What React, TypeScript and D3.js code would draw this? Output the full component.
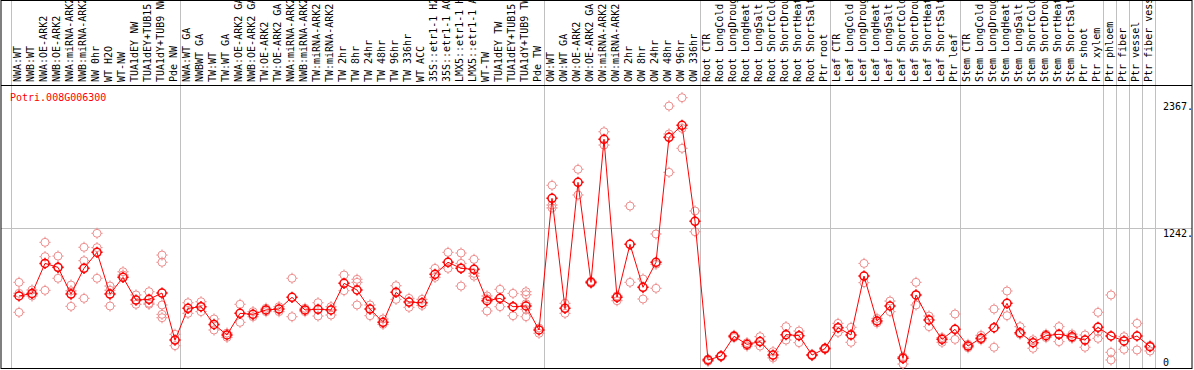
import React from 'react';
import * as d3 from 'd3';

// chart data
const title = 'Potri.008G006300';

const labels = [
  'NWA:WT', 'NWB:WT', 'NWA:OE-ARK2', 'NWB:OE-ARK2', 'NWA:miRNA-ARK2', 'NWB:miRNA-ARK2', 'NW 0hr',
  'WT H2O', 'WT-NW', 'TUA1dEY NW', 'TUA1dEY+TUB15', 'TUA1dY+TUB9 NW', 'Pde NW',
  'NWA:WT GA', 'NWBWT GA', 'TW:WT', 'TW:WT GA', 'NWA:OE-ARK2 GA', 'NWB:OE-ARK2 GA', 'TW:OE-ARK2',
  'TW:OE-ARK2 GA', 'NWA:miRNA-ARK2', 'NWB:miRNA-ARK2', 'TW:miRNA-ARK2', 'TW:miRNA-ARK2', 'TW 2hr',
  'TW 8hr', 'TW 24hr', 'TW 48hr', 'TW 96hr', 'TW 336hr', 'WT ACC', '35S::etr1-1 H2O', '35S::etr1-1 ACC',
  'LMX5::etr1-1 H2O', 'LMX5::etr1-1 ACC', 'WT-TW', 'TUA1dEY TW', 'TUA1dEY+TUB15', 'TUA1dY+TUB9 TW', 'Pde TW',
  'OW:WT', 'OW:WT GA', 'OW:OE-ARK2', 'OW:OE-ARK2 GA', 'OW:miRNA-ARK2', 'OW:miRNA-ARK2', 'OW 2hr',
  'OW 8hr', 'OW 24hr', 'OW 48hr', 'OW 96hr', 'OW 336hr',
  'Root CTR', 'Root LongCold', 'Root LongDrought', 'Root LongHeat', 'Root LongSalt', 'Root ShortCold',
  'Root ShortDrought', 'Root ShortHeat', 'Root ShortSalt', 'Ptr root',
  'Leaf CTR', 'Leaf LongCold', 'Leaf LongDrought', 'Leaf LongHeat', 'Leaf LongSalt', 'Leaf ShortCold',
  'Leaf ShortDrought', 'Leaf ShortHeat', 'Leaf ShortSalt', 'Ptr leaf',
  'Stem CTR', 'Stem LongCold', 'Stem LongDrought', 'Stem LongHeat', 'Stem LongSalt', 'Stem ShortCold',
  'Stem ShortDrought', 'Stem ShortHeat', 'Stem ShortSalt', 'Ptr shoot', 'Ptr xylem',
  'Ptr phloem', 'Ptr fiber', 'Ptr vessel', 'Ptr fiber vessel',
];

// number of samples between the grey separators
const groupSizes = [13, 28, 12, 10, 10, 11, 1, 1, 1, 1];

const means = [
  639, 662, 928, 893, 656, 884, 1026, 656, 804, 603, 609, 665, 248,
  529, 544, 387, 293, 485, 476, 515, 523, 627, 515, 521, 515, 751, 692, 523, 405, 671, 585, 579,
  831, 938, 884, 875, 597, 618, 544, 550, 337,
  1505, 529, 1647, 760, 2029, 627, 1097, 716, 938, 2046, 2153, 1301,
  71, 106, 281, 210, 234, 115, 296, 287, 115, 172,
  358, 293, 816, 417, 550, 86, 648, 426, 254, 343,
  195, 263, 358, 574, 313, 225, 287, 299, 278, 248, 361,
  284, 240, 284, 189,
];

const replicates = [
  [760, 494, 663], [692, 639, 655], [1115, 988, 689], [993, 796, 890], [736, 547, 685],
  [1071, 952, 618], [1195, 1068, 796], [727, 550, 690], [854, 825], [648, 565],
  [677, 565, 575], [1002, 938, 559, 476, 446], [299, 198],
  [579, 485], [588, 500], [435, 337], [310, 272], [565, 405], [500, 455], [530, 500],
  [544, 500], [796, 455], [530, 500], [579, 461], [544, 470], [825, 686], [787, 760, 559],
  [559, 464], [435, 387], [730, 609], [618, 538], [609, 555], [884, 804], [1026, 884],
  [1020, 928, 727], [964, 840, 815], [639, 615, 506], [698, 544], [662, 464],
  [677, 650, 570, 520, 455], [355, 308],
  [1621, 1446, 1420], [574, 485], [1763, 1535], [770, 750], [2096, 1978], [640, 597],
  [1437, 760], [790, 612], [1189, 920, 707], [2324, 2076, 1736], [2398, 2126, 1949], [1393, 1209],
  [80, 60], [110, 100], [290, 270], [225, 195], [278, 195], [145, 90], [367, 248], [328, 225],
  [120, 110], [180, 165],
  [396, 316], [361, 228], [928, 757], [440, 400], [594, 500], [100, 35], [760, 559], [461, 367],
  [270, 228], [479, 254],
  [210, 180], [290, 250], [523, 184], [683, 464], [367, 300], [250, 175], [300, 270], [367, 234],
  [300, 265], [293, 184], [494, 320, 263],
  [648, 139, 71], [278, 166], [396, 160], [200, 151],
];

const yTickValues = [0, 1242, 2367];
const yTickLabels = ['0', '1242.', '2367.'];

const W = 1194;
const H = 370;
const font = '"DejaVu Sans Mono", monospace';

function Marker({ x, y, color, sw }) {
  const r = 4;
  const t = 1.6;
  return (
    <g transform={`translate(${x},${y})`} stroke={color} strokeWidth={sw} fill="none">
      <circle r={r} />
      <line x1={0} y1={-r} x2={0} y2={-r - t} />
      <line x1={0} y1={r} x2={0} y2={r + t} />
      <line x1={-r} y1={0} x2={-r - t} y2={0} />
      <line x1={r} y1={0} x2={r + t} y2={0} />
    </g>
  );
}

export default function App() {
  const x = d3.scaleBand<number>().domain(d3.range(labels.length)).range([11, 1155]);
  const y = d3.scaleLinear().domain([0, 1242]).range([368, 228]);
  const px = (i: number) => (x(i) as number) + 8;

  const bounds = [0, ...d3.cumsum(groupSizes)];
  const bx = (k: number) => (k < labels.length ? (x(k) as number) : x.range()[1]);

  const line = d3
    .line<number>()
    .x((_, i) => px(i))
    .y((d) => y(d));

  return (
    <svg
      width={W}
      height={H}
      style={{ position: 'absolute', left: 0, top: 0, display: 'block', background: '#fff' }}
      fontFamily={font}
      fontSize={10}
    >
      {/* grid */}
      <line x1={1} x2={1192} y1={y(1242) + 0.5} y2={y(1242) + 0.5} stroke="#c0c0c0" />
      {bounds.map((k) => (
        <line key={k} x1={bx(k) + 0.5} x2={bx(k) + 0.5} y1={0} y2={369} stroke="#c0c0c0" />
      ))}

      {/* frame */}
      <rect x={1} y={0.5} width={1191} height={368} fill="none" stroke="#000" />
      <line x1={1} x2={1192} y1={85.5} y2={85.5} stroke="#000" />

      {/* sample labels */}
      {labels.map((l, i) => (
        <text key={i} transform={`translate(${(x(i) as number) + 10},82) rotate(-90)`} fill="#000">
          {l}
        </text>
      ))}

      <text x={10} y={101} fill="#ff0000">{title}</text>

      {yTickValues.map((v, i) => (
        <text key={v} x={1163} y={v === 0 ? y(v) - 2 : y(v) + 9} fill="#000">
          {yTickLabels[i]}
        </text>
      ))}

      {/* replicates */}
      {replicates.map((rs, i) =>
        rs.map((v, j) => <Marker key={`${i}-${j}`} x={px(i)} y={y(v)} color="#ee8e8e" sw={1} />)
      )}

      <path d={line(means) as string} fill="none" stroke="#ff0000" strokeWidth={1} />

      {means.map((v, i) => (
        <Marker key={i} x={px(i)} y={y(v)} color="#ff0000" sw={1.5} />
      ))}
    </svg>
  );
}
